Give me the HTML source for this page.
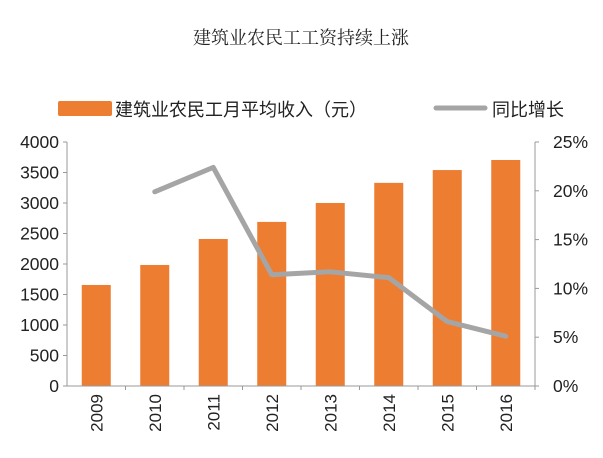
<!DOCTYPE html>
<html><head><meta charset="utf-8"><style>
body{margin:0;background:#fff;}
svg text{font-family:"Liberation Sans","Noto Sans CJK SC",sans-serif;fill:#222;}
</style></head><body>
<svg width="603" height="453">
<text x="301" y="44" text-anchor="middle" style="font-family:'Liberation Serif','Noto Serif CJK SC',serif;font-size:18px;fill:#222">建筑业农民工工资持续上涨</text>
<g>
<rect x="58" y="101" width="54" height="15" rx="2" fill="#ED7D31"/>
<text x="115" y="116" font-size="18">建筑业农民工月平均收入（元）</text>
<line x1="436" y1="108" x2="485" y2="108" stroke="#A5A5A5" stroke-width="5" stroke-linecap="round"/>
<text x="492" y="116" font-size="18">同比增长</text>
</g>
<g id="plot"></g>
</svg>
<script>
const categories=["2009","2010","2011","2012","2013","2014","2015","2016"];
const income=[1656,1984,2410,2690,3000,3330,3540,3705];
const growth=[null,19.9,22.4,11.4,11.7,11.1,6.6,5.1];
const leftTicks=[0,500,1000,1500,2000,2500,3000,3500,4000];
const rightTicks=[0,5,10,15,20,25];
const NS="http://www.w3.org/2000/svg";
const g=document.getElementById('plot');
const X0=67,X1=535,Y0=386,Y1=142;
const band=(X1-X0)/categories.length;
const xc=i=>X0+band*(i+0.5);
const yL=v=>Y0-(v/4000)*(Y0-Y1);
const yR=v=>Y0-(v/25)*(Y0-Y1);
function mk(t,a){const e=document.createElementNS(NS,t);for(const k in a)e.setAttribute(k,a[k]);g.appendChild(e);return e;}
let e;
e=mk('line',{x1:X0,y1:Y1,x2:X0,y2:Y0,stroke:'#999'});


e=mk('line',{x1:X1,y1:Y1,x2:X1,y2:Y0,stroke:'#999'});


leftTicks.forEach(v=>{
 mk('line',{x1:X0-4,y1:yL(v),x2:X0,y2:yL(v),stroke:'#999'});
 e=mk('text',{x:X0-8,y:yL(v)+6,'text-anchor':'end','font-size':17.5});
 e.textContent=v;
 
 
});
rightTicks.forEach(v=>{
 mk('line',{x1:X1,y1:yR(v),x2:X1+4,y2:yR(v),stroke:'#999'});
 e=mk('text',{x:X1+18,y:yR(v)+6,'font-size':17.5});
 e.textContent=v+'%';
 
 
});
categories.forEach((c,i)=>{
 e=mk('rect',{x:xc(i)-14.5,y:yL(income[i]),width:29,height:Y0-yL(income[i]),fill:'#ED7D31'});
 
 
 mk('line',{x1:X0+band*(i+1),y1:Y0,x2:X0+band*(i+1),y2:Y0+4,stroke:'#999'});
 e=mk('text',{x:0,y:0,'text-anchor':'end','font-size':17,transform:`translate(${xc(i)+6},${Y0+8}) rotate(-90)`});
 e.textContent=c;
 
 
});
e=mk('line',{x1:X0,y1:Y0,x2:X1,y2:Y0,stroke:'#999'});


const pts=growth.map((v,i)=>v==null?null:xc(i)+','+yR(v)).filter(p=>p);
e=mk('polyline',{points:pts.join(' '),fill:'none',stroke:'#A5A5A5','stroke-width':5,'stroke-linejoin':'round','stroke-linecap':'round'});


</script>
</body></html>
